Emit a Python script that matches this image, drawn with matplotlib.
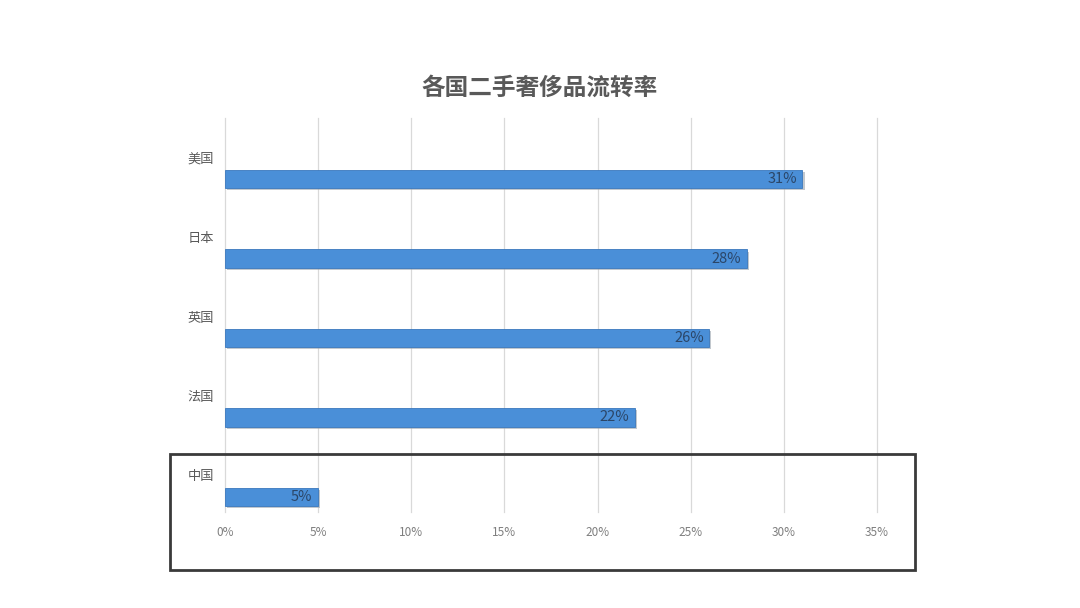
import matplotlib
matplotlib.use("Agg")
import matplotlib.pyplot as plt
import matplotlib.patches as patches
import matplotlib.patheffects as pe
import numpy as np

plt.rcParams['font.family'] = ['Noto Sans CJK SC', 'DejaVu Sans']

# 数据
countries = ['美国', '日本', '英国', '法国', '中国']
rates = [31, 28, 26, 22, 5]
x_ticks = [0, 5, 10, 15, 20, 25, 30, 35]

fig = plt.figure(figsize=(10.8, 6.08), dpi=100)
ax = fig.add_axes([225 / 1080, 96 / 608, 652 / 1080, 394 / 608])

ypos = np.arange(len(countries))[::-1]

bars = ax.barh(ypos, rates, height=0.23, color='#4a8fd8', edgecolor='#3a78bd',
               linewidth=0.6, zorder=3)
for b in bars:
    b.set_path_effects([pe.SimplePatchShadow(offset=(1.5, -1.5), shadow_rgbFace='#9aa4ae', alpha=0.6),
                        pe.Normal()])

# 数值标签
for y, v in zip(ypos, rates):
    ax.text(v - 0.3, y, f'{v}%', ha='right', va='center', fontsize=10.5,
            color='#2b4668', zorder=4)

ax.set_xlim(0, 35)
ax.set_ylim(-0.19, 4.77)
ax.set_xticks(x_ticks)
ax.set_xticklabels([f'{t}%' for t in x_ticks], fontsize=8.5, color='#7f7f7f')
ax.set_yticks(ypos + 0.27)
ax.set_yticklabels(countries, fontsize=9.5, color='#595959')
ax.tick_params(axis='both', length=0)
ax.tick_params(axis='x', pad=10)
ax.tick_params(axis='y', pad=8)

ax.grid(axis='x', color='#d9d9d9', linewidth=0.9, zorder=0)
ax.grid(axis='y', visible=False)
for gl in ax.get_xgridlines():
    gl.set_clip_on(False)
for s in ax.spines.values():
    s.set_visible(False)

fig.text(540 / 1080, 1 - 88 / 608, '各国二手奢侈品流转率', ha='center', va='center',
         fontsize=17, color='#595959', fontweight='bold')

# 中国框
box = patches.Rectangle((170 / 1080, 38 / 608), 745 / 1080, 116 / 608,
                        transform=fig.transFigure, fill=False,
                        edgecolor='#3a3a3a', linewidth=2)
fig.patches.append(box)

fig.savefig('out.png', dpi=100)
